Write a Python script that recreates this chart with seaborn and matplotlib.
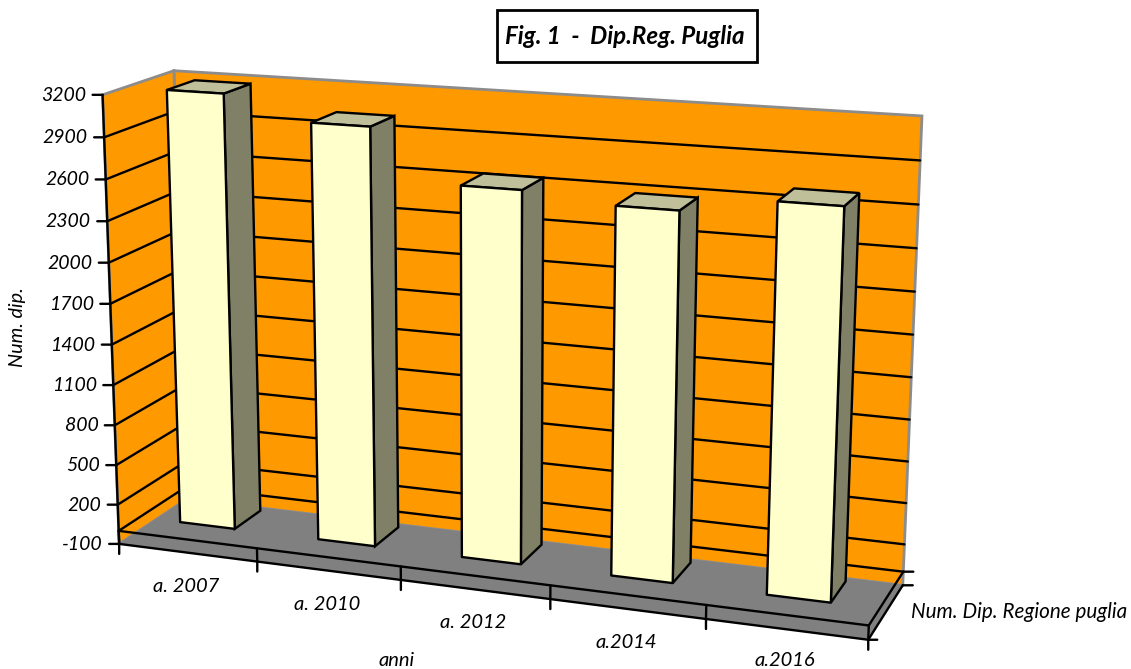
import numpy as np
import pandas as pd
import matplotlib
matplotlib.use("Agg")
import matplotlib.pyplot as plt
from matplotlib.transforms import Transform, Affine2D
from matplotlib.patches import Rectangle
import seaborn as sns

# ---- data -------------------------------------------------------------
categories = ["a. 2007", "a. 2010", "a. 2012", "a.2014", "a.2016"]
values = [3200, 3035, 2670, 2610, 2720]
y_ticks = [-100, 200, 500, 800, 1100, 1400, 1700, 2000, 2300, 2600, 2900, 3200]
grid_values = [0, 200, 500, 800, 1100, 1400, 1700, 2000, 2300, 2600, 2900]
series_name = "Num. Dip. Regione puglia"
title = "Fig. 1  -  Dip.Reg. Puglia"

# ---- layout -------------------------------------------------------------
W, H = 1131, 669
U0, U1 = -0.5, 4.5          # category scale limits
V0, V1 = -100, 3200         # value scale limits
BAR_W = 0.4
Z0, Z1 = 0.30, 0.70         # bar extent in depth
ORANGE, FLOOR, EDGE = "#FF9900", "#808080", "#8C8C8C"
FRONT, SIDE, TOP = "#FFFFCC", "#808066", "#BFBF99"
LW = 1.7

# Calibration of the oblique view: scale corners -> picture pixels
calib = [
    ((U0, V0, 0), (119.5, 544)), ((U0, V1, 0), (102.5, 94.5)),
    ((U0, V1, 1), (174, 71)),    ((U0, V0, 1), (186.5, 499)),
    ((U1, V0, 0), (868, 640)),   ((U1, V0, 1), (903, 585)),
    ((U1, V1, 1), (922, 116)),
]
rows = []
for (u, v, w), (px, py) in calib:
    X = [u, v / 1000, w, 1]
    rows.append(X + [0, 0, 0, 0] + [-px / 1000 * c for c in X])
    rows.append([0, 0, 0, 0] + X + [-py / 1000 * c for c in X])
CAM = np.linalg.svd(np.array(rows))[2][-1].reshape(3, 4)


class Plane(Transform):
    """Maps 2-D scale coords lying in one plane of the box to display pixels."""
    input_dims = output_dims = 2
    is_separable = False
    has_inverse = False

    def __init__(self, fixed, value):
        super().__init__()
        self.fixed, self.value = fixed, value

    def transform_non_affine(self, values):
        a = np.asarray(values, float).reshape(-1, 2)
        c = np.full(len(a), float(self.value))
        if self.fixed == "w":
            u, v, w = a[:, 0], a[:, 1], c
        elif self.fixed == "u":
            u, v, w = c, a[:, 1], a[:, 0]
        else:
            u, v, w = a[:, 0], c, a[:, 1]
        X = np.c_[u, v / 1000, w, np.ones(len(a))]
        p = X @ CAM.T
        return np.c_[1000 * p[:, 0] / p[:, 2], H - 1000 * p[:, 1] / p[:, 2]]


sns.set_theme(style="white")
plt.rcParams["font.family"] = ["Lato", "DejaVu Sans"]

fig = plt.figure(figsize=(W / 100, H / 100), dpi=100, facecolor="white")
ax = fig.add_axes([0, 0, 1, 1])
px = Affine2D().scale(1, -1).translate(0, H)

df = pd.DataFrame({"anno": categories, "dip": values})
sns.barplot(data=df, x="anno", y="dip", color=FRONT, saturation=1, width=BAR_W,
            edgecolor="black", linewidth=LW, ax=ax, errorbar=None)
bars = list(ax.patches)
ax.set_axis_off()

front_plane = Plane("w", Z0)
for b in bars:
    b.set_transform(front_plane)
    b.set_clip_on(False)
    b.set_zorder(6)
    b.set_joinstyle("round")

    x0, x1 = b.get_x(), b.get_x() + b.get_width()
    h = b.get_height()
    ax.fill([Z0, Z1, Z1, Z0], [0, 0, h, h], transform=Plane("u", x1), fc=SIDE,
            ec="black", lw=LW, zorder=5, clip_on=False)
    ax.fill([x0, x1, x1, x0], [Z0, Z0, Z1, Z1], transform=Plane("v", h), fc=TOP,
            ec="black", lw=LW, zorder=5, clip_on=False)

# walls and floor
ax.fill([U0, U1, U1, U0], [V0, V0, V1, V1], transform=Plane("w", 1), fc=ORANGE,
        ec=EDGE, lw=2.0, zorder=1, clip_on=False)
ax.fill([0, 1, 1, 0], [V0, V0, V1, V1], transform=Plane("u", U0), fc=ORANGE,
        ec=EDGE, lw=2.0, zorder=1, clip_on=False)
ax.fill([U0, U1, U1, U0], [0, 0, 1, 1], transform=Plane("v", V0), fc=FLOOR,
        ec=FLOOR, lw=0.6, zorder=2, clip_on=False)

# grid on back and left walls
for g in grid_values:
    ax.plot([U0, U1], [g, g], transform=Plane("w", 1), color="black", lw=LW, zorder=3, clip_on=False)
    ax.plot([0, 1], [g, g], transform=Plane("u", U0), color="black", lw=LW, zorder=3, clip_on=False)

# axis lines
line = dict(color="black", lw=LW, zorder=7, clip_on=False, solid_capstyle="round")
ax.plot([0, 0], [V0, V1], transform=Plane("u", U0), **line)
for lev in (V0, 0):
    ax.plot([U0, U1], [lev, lev], transform=Plane("w", 0), **line)
    ax.plot([0, 1], [lev, lev], transform=Plane("u", U1), **line)


def tick(xy, trans, dx, dy):
    ax.annotate("", xy=xy, xycoords=trans, xytext=(dx, dy), textcoords="offset pixels",
                arrowprops=dict(arrowstyle="-", color="black", lw=LW, shrinkA=0, shrinkB=0),
                annotation_clip=False, zorder=7)


tick_front = Plane("w", 0)
for t in y_ticks:
    tick((U0, t), tick_front, -10, 0)
    ax.annotate(f"{t}", xy=(U0, t), xycoords=tick_front, xytext=(-16.5, -0.5),
                textcoords="offset pixels", ha="right", va="center", style="italic",
                fontsize=14, color="black", annotation_clip=False)
for i in range(len(categories) + 1):
    u = U0 + i
    ax.plot([u, u], [V0, 0], transform=tick_front, **line)
    tick((u, V0), tick_front, 0, -10)
tick((U1, V0), tick_front, 9, 0)
for lev in (V0, 0):
    tick((1, lev), Plane("u", U1), 10, 0)

# texts
label_xy = [(186, 587), (327, 604), (473, 623), (626, 643), (785, 660)]
for s, (x, y) in zip(categories, label_xy):
    ax.text(x, y, s, transform=px, ha="center", va="center", style="italic", fontsize=14.5, color="black")
ax.text(397, 660, "anni", transform=px, ha="center", va="center", style="italic", fontsize=14.5, color="black")
ax.text(17, 327, "Num. dip.", transform=px, ha="center", va="center", rotation=90,
        style="italic", fontsize=14.3, color="black")
ax.text(1019.5, 612, series_name, transform=px, ha="center", va="center", style="italic",
        fontsize=14.9, color="black")

ax.add_patch(Rectangle((497, 10), 260, 52, transform=px, fc="white", ec="black", lw=2.0,
                       zorder=8, clip_on=False))
ax.text(625, 36, title, transform=px, ha="center", va="center", style="italic", weight="bold",
        fontsize=17.4, color="black", zorder=9)

fig.savefig("out.png", dpi=100)
